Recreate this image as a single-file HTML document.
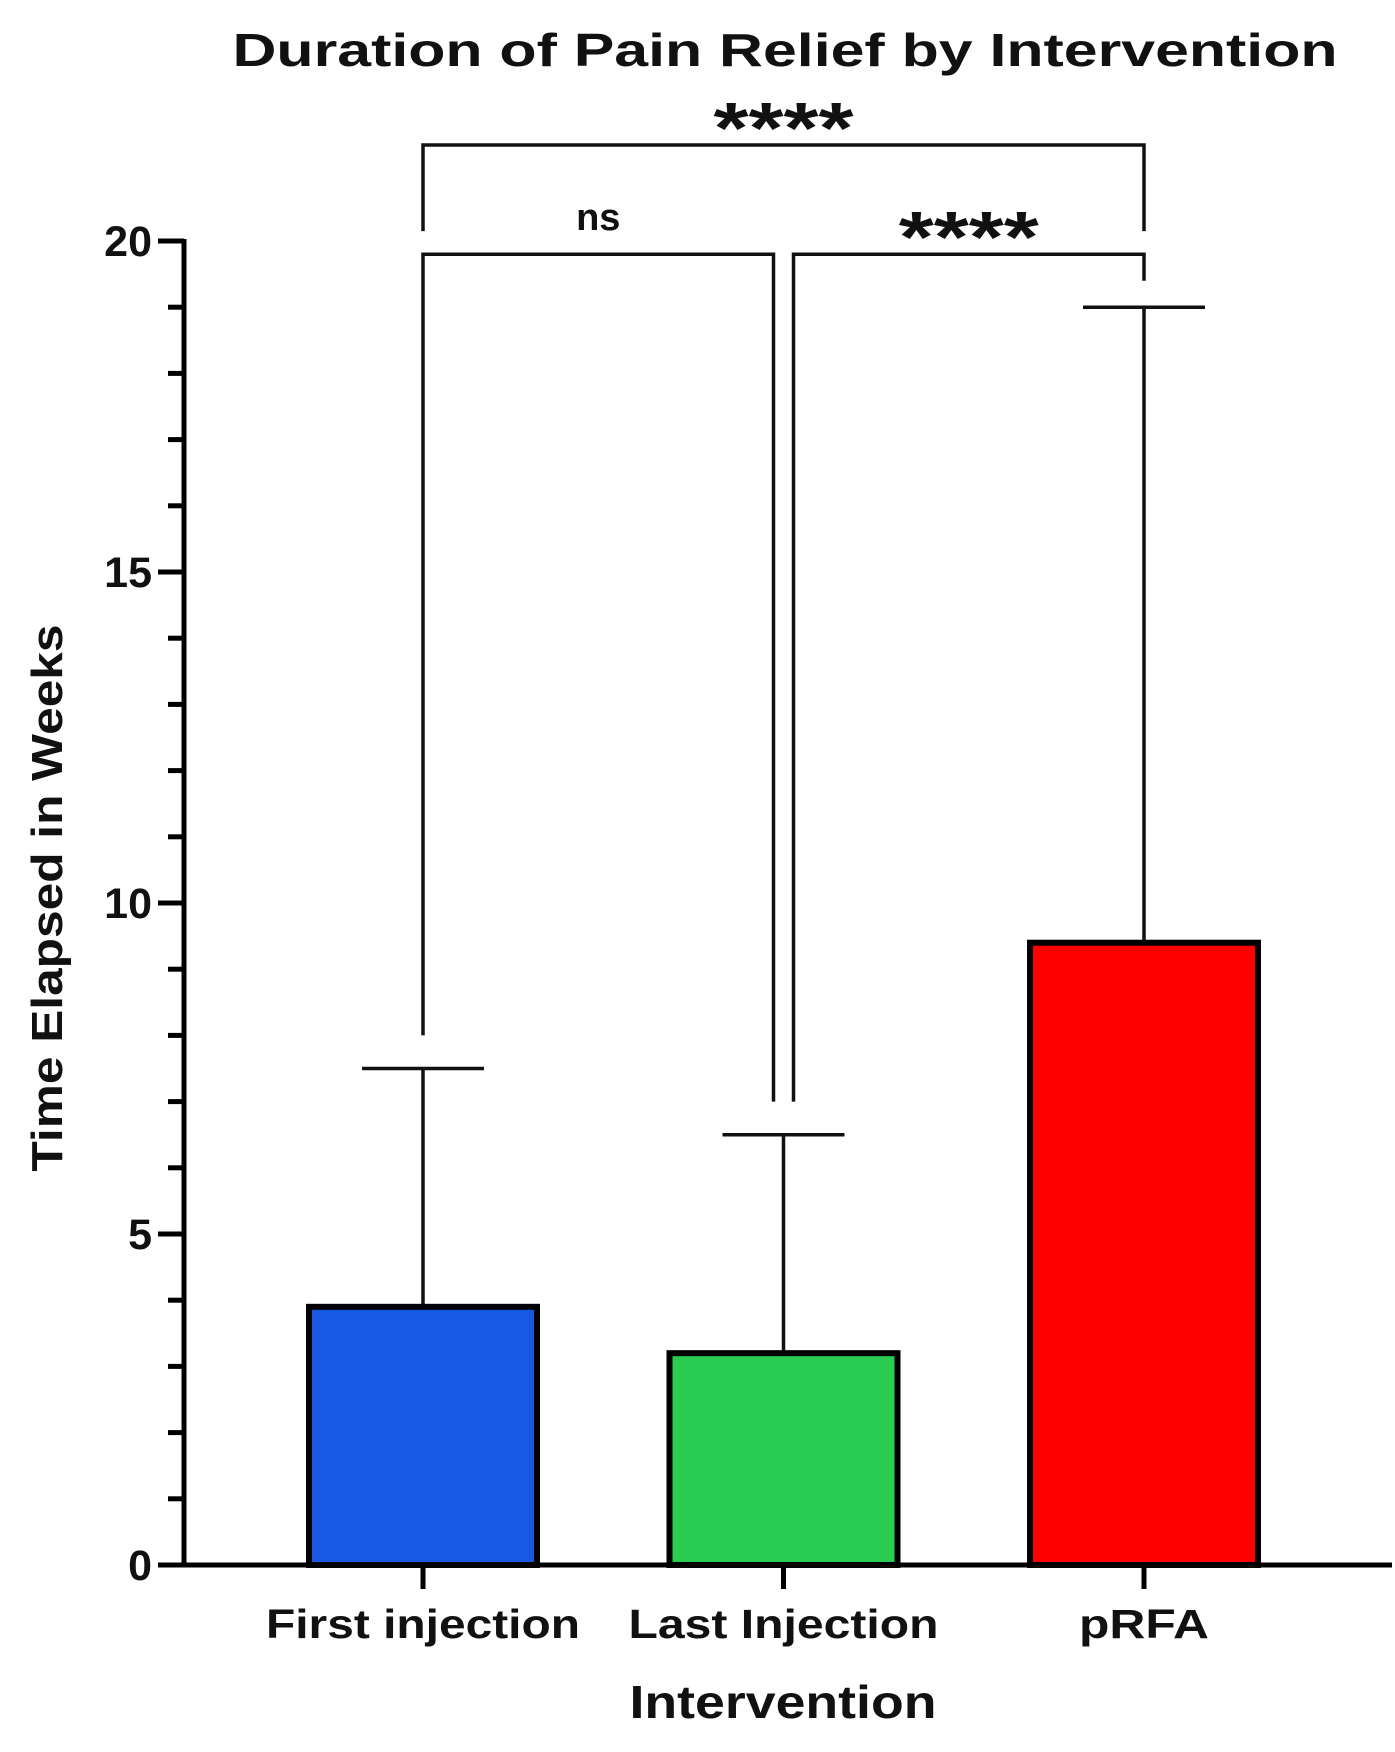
<!DOCTYPE html>
<html><head><meta charset="utf-8"><style>
body{margin:0;background:#fff}
svg text{font-family:"Liberation Sans",Arial,sans-serif;font-weight:bold;fill:#111}
</style></head><body>
<svg id="chart" width="1395" height="1747" viewBox="0 0 1395 1747" xmlns="http://www.w3.org/2000/svg">
<text x="785" y="66" font-size="46" text-anchor="middle" textLength="1105" lengthAdjust="spacingAndGlyphs">Duration of Pain Relief by Intervention</text>
<g id="plot"></g>
<text x="783" y="1718" font-size="46" text-anchor="middle" textLength="307" lengthAdjust="spacingAndGlyphs">Intervention</text>
<text transform="translate(62,898) rotate(-90)" font-size="44" text-anchor="middle" textLength="547" lengthAdjust="spacingAndGlyphs">Time Elapsed in Weeks</text>
</svg>
<script>
const categories = ["First injection","Last Injection","pRFA"];
const means = [3.9, 3.2, 9.4];
const errUpper = [7.5, 6.5, 19.0];
const colors = ["#1858e3","#29cc51","#ff0000"];
const yTicks = [0,5,10,15,20];
const comparisons = [
  {a:0,b:2,label:"****",y:21.45,la:20.15,lb:20.15},
  {a:0,b:1,label:"ns",y:19.8,la:8.0,lb:7.0},
  {a:1,b:2,label:"****",y:19.8,la:7.0,lb:19.4}
];
const NS="http://www.w3.org/2000/svg";
const g=document.getElementById('plot');
const X0=184, Y0=1565, PX=66.2;
function yS(v){return Y0-v*PX;}
function xS(i){return 423+i*360.5;}
function el(t,a){const e=document.createElementNS(NS,t);for(const k in a)e.setAttribute(k,a[k]);g.appendChild(e);return e;}
const labelLens=[314,310,130];
categories.forEach((c,i)=>{
  const cx=xS(i);
  const eb=el('line',{x1:cx,x2:cx,y1:yS(means[i]),y2:yS(errUpper[i]),stroke:'#111','stroke-width':3.5});
  
  
  const cap=el('line',{x1:cx-61,x2:cx+61,y1:yS(errUpper[i]),y2:yS(errUpper[i]),stroke:'#111','stroke-width':3.5});
  
  
  const b=el('rect',{x:cx-114,y:yS(means[i]),width:228,height:means[i]*PX,fill:colors[i],stroke:'#000','stroke-width':6});
  
  
  const t=el('line',{x1:cx,x2:cx,y1:Y0,y2:Y0+24,stroke:'#000','stroke-width':5});
  
  
  const lb=el('text',{x:cx,y:1638,'font-size':41,'text-anchor':'middle',textLength:labelLens[i],lengthAdjust:'spacingAndGlyphs'});
  lb.textContent=c;
  
  
});
const ya=el('line',{x1:X0,x2:X0,y1:yS(20)-2,y2:Y0+2,stroke:'#000','stroke-width':5});


const xa=el('line',{x1:X0-14,x2:1392,y1:Y0,y2:Y0,stroke:'#000','stroke-width':5});


for(let v=0;v<=20;v++){
  const major=yTicks.includes(v);
  const t=el('line',{x1:major?X0-26:X0-16,x2:X0,y1:yS(v),y2:yS(v),stroke:'#000','stroke-width':5});
  
  
}
yTicks.forEach(v=>{
  const t=el('text',{x:152,y:yS(v)+15,'font-size':43,'text-anchor':'end'});
  t.textContent=v;
  
  
});
comparisons.forEach((c,k)=>{
  let xa2=xS(c.a), xb=xS(c.b);
  if(k===1) xb-=10;
  if(k===2) xa2+=10;
  const p=el('polyline',{points:`${xa2},${yS(c.la)} ${xa2},${yS(c.y)} ${xb},${yS(c.y)} ${xb},${yS(c.lb)}`,fill:'none',stroke:'#111','stroke-width':3.5});
  
  
  const isNs=c.label==='ns';
  const t=el('text',{x:(xa2+xb)/2,y:isNs?yS(c.y)-24:yS(c.y)+8,'font-size':isNs?38:72,'text-anchor':'middle'});
  if(isNs){t.setAttribute('font-weight','normal');}
  else{t.setAttribute('textLength','140');t.setAttribute('lengthAdjust','spacingAndGlyphs');}
  t.textContent=c.label;
  
  
});
</script>
</body></html>
